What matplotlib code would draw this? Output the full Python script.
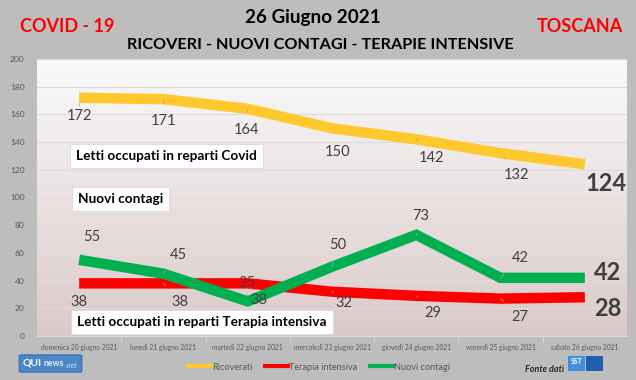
import numpy as np
import matplotlib
matplotlib.use("Agg")
import matplotlib.pyplot as plt
from matplotlib.lines import Line2D
from matplotlib.patches import FancyBboxPatch, Rectangle

plt.rcParams['font.family'] = ['Lato', 'DejaVu Sans']

days = ["domenica 20 giugno 2021", "lunedì 21 giugno 2021", "martedì 22 giugno 2021",
        "mercoledì 23 giugno 2021", "giovedì 24 giugno 2021", "venerdì 25 giugno 2021",
        "sabato 26 giugno 2021"]
ricoverati = [172, 171, 164, 150, 142, 132, 124]
terapia = [38, 38, 38, 32, 29, 27, 28]
contagi = [55, 45, 25, 50, 73, 42, 42]

# label positions (category offset, y)
ric_lab = [(0.01, 159), (1.0, 155), (1.99, 149), (3.07, 133), (4.18, 128.5), (5.19, 116)]
ter_lab = [(0.0, 24.5), (1.19, 24.5), (2.13, 26), (3.14, 24), (4.19, 16.5), (5.23, 14)]
con_lab = [(0.15, 71.5), (1.18, 58.5), (1.99, 38), (3.07, 65.7), (4.05, 86.6), (5.23, 56)]
last_lab = [(6.25, 110), (6.27, 20), (6.27, 46)]

YELLOW = "#ffc82c"
RED = "#ff0000"
GREEN = "#00b050"
GREY_TXT = "#404040"

W, H = 636, 380
fig = plt.figure(figsize=(W / 100, H / 100), dpi=100)
fig.patch.set_facecolor("#bdbdbd")

def fx(px):
    return px / W

def fy(py):
    return 1 - py / H

ax = fig.add_axes([fx(37), fy(336), fx(627) - fx(37), fy(59) - fy(336)])
ax.set_xlim(-0.5, 6.5)
ax.set_ylim(0, 200)

# gradient background
grad = np.linspace(0, 1, 256).reshape(-1, 1)
top = np.array([0.98, 0.98, 0.98])
bot = np.array([0.86, 0.79, 0.79])
img = top * (1 - grad[..., None]) + bot * grad[..., None]
ax.imshow(img, extent=[0, 1, 0, 1], transform=ax.transAxes,
          aspect="auto", zorder=0)
ax.set_facecolor("none")

ax.set_yticks(range(0, 201, 20))
ax.yaxis.grid(True, color="#dcdcdc", lw=0.8, zorder=1)
ax.set_axisbelow(True)
for s in ["top", "right", "left"]:
    ax.spines[s].set_visible(False)
ax.spines["bottom"].set_color("#d9d9d9")
ax.tick_params(axis="y", length=0, labelsize=6, labelcolor="#595959", pad=9)
ax.set_xticks(range(len(days)))
ax.set_xticklabels(days, fontsize=4.8, color="#595959")
ax.tick_params(axis="x", length=0, pad=6)
ax.set_xticks(np.arange(0.5, 6.5, 1), minor=True)
ax.tick_params(axis="x", which="minor", length=4, color="#d9d9d9")

x = np.arange(len(days))
lw = 7.5
ax.plot(x, ricoverati, color=YELLOW, lw=lw, solid_capstyle="butt",
        solid_joinstyle="miter", zorder=3)
ax.plot(x, terapia, color=RED, lw=lw, solid_capstyle="butt",
        solid_joinstyle="miter", zorder=3)
ax.plot(x, contagi, color=GREEN, lw=lw, solid_capstyle="butt",
        solid_joinstyle="miter", zorder=4)

def labels(vals, pos):
    for i, (lx, ly) in enumerate(pos):
        ax.annotate(str(vals[i]), xy=(i, vals[i]), xytext=(lx, ly),
                    textcoords="data", ha="center", va="center",
                    fontsize=10.5, color=GREY_TXT, zorder=6,
                    arrowprops=dict(arrowstyle="-", color="#a6a6a6", lw=0.6,
                                    shrinkA=6, shrinkB=4))

labels(ricoverati, ric_lab)
labels(terapia, ter_lab)
labels(contagi, con_lab)

for vals, (lx, ly) in zip([ricoverati, terapia, contagi], last_lab):
    ax.text(lx, ly, str(vals[-1]), ha="center", va="center",
            fontsize=17, fontweight="bold", color=GREY_TXT, zorder=6)

box = dict(boxstyle="square,pad=0.45", fc="white", ec="#d9d9d9", lw=0.6)
fig.text(fx(76), fy(156), "Letti occupati in reparti Covid", fontsize=9.8,
         fontweight="bold", va="center", ha="left", bbox=box, zorder=7)
fig.text(fx(78), fy(199), "Nuovi contagi", fontsize=9.8,
         fontweight="bold", va="center", ha="left", bbox=box, zorder=7)
fig.text(fx(77), fy(322), "Letti occupati in reparti Terapia intensiva", fontsize=9.8,
         fontweight="bold", va="center", ha="left", bbox=box, zorder=7)

# titles
fig.text(fx(313), fy(18), "26 Giugno 2021", fontsize=13.6, fontweight="bold",
         ha="center", va="center")
fig.text(fx(320), fy(45), "RICOVERI - NUOVI CONTAGI - TERAPIE INTENSIVE",
         fontsize=11.7, fontweight="bold", ha="center", va="center")
fig.text(fx(20), fy(27), "COVID - 19", fontsize=13, fontweight="bold",
         color=RED, ha="left", va="center")
fig.text(fx(623), fy(27), "TOSCANA", fontsize=13, fontweight="bold",
         color=RED, ha="right", va="center")

# legend
handles = [Line2D([], [], color=YELLOW, lw=3),
           Line2D([], [], color=RED, lw=3),
           Line2D([], [], color=GREEN, lw=3)]
fig.legend(handles, ["Ricoverati", "Terapia intensiva", "Nuovi contagi"],
           loc="center", bbox_to_anchor=(fx(319), fy(367)), ncol=3,
           frameon=False, fontsize=6.6, handlelength=2.5, handletextpad=0.1,
           columnspacing=1.4, labelcolor="#595959")

fig.text(fx(564), fy(370), "Fonte dati", fontsize=6.5, style="italic",
         fontweight="bold", ha="right", va="center", color="#262626")

# logos (approximate)
fig.patches.append(FancyBboxPatch((fx(21), fy(371)), fx(59), fy(356) - fy(371),
                                  boxstyle="round,pad=0.003", fc="#4a86c8",
                                  ec="#2a5fa0", lw=0.6, transform=fig.transFigure,
                                  figure=fig))
fig.text(fx(23), fy(363), "QUI", fontsize=7.5, fontweight="bold", color="white",
         ha="left", va="center")
fig.text(fx(44), fy(364), "news", fontsize=6.3, fontweight="bold", color="#e8eef8",
         ha="left", va="center")
fig.text(fx(66), fy(365), ".net", fontsize=5.3, style="italic", color="#cfe0f5",
         ha="left", va="center")
fig.patches.append(Rectangle((fx(568), fy(371)), fx(17), fy(356) - fy(371),
                             fc="#3f8fdc", ec="none", transform=fig.transFigure,
                             figure=fig))
fig.patches.append(Rectangle((fx(586), fy(371)), fx(17), fy(356) - fy(371),
                             fc="#1f5fae", ec="none", transform=fig.transFigure,
                             figure=fig))
fig.text(fx(576.5), fy(361), "SST", fontsize=5, fontweight="bold", color="white",
         ha="center", va="center")

fig.savefig("out.png", dpi=100, facecolor=fig.get_facecolor())
